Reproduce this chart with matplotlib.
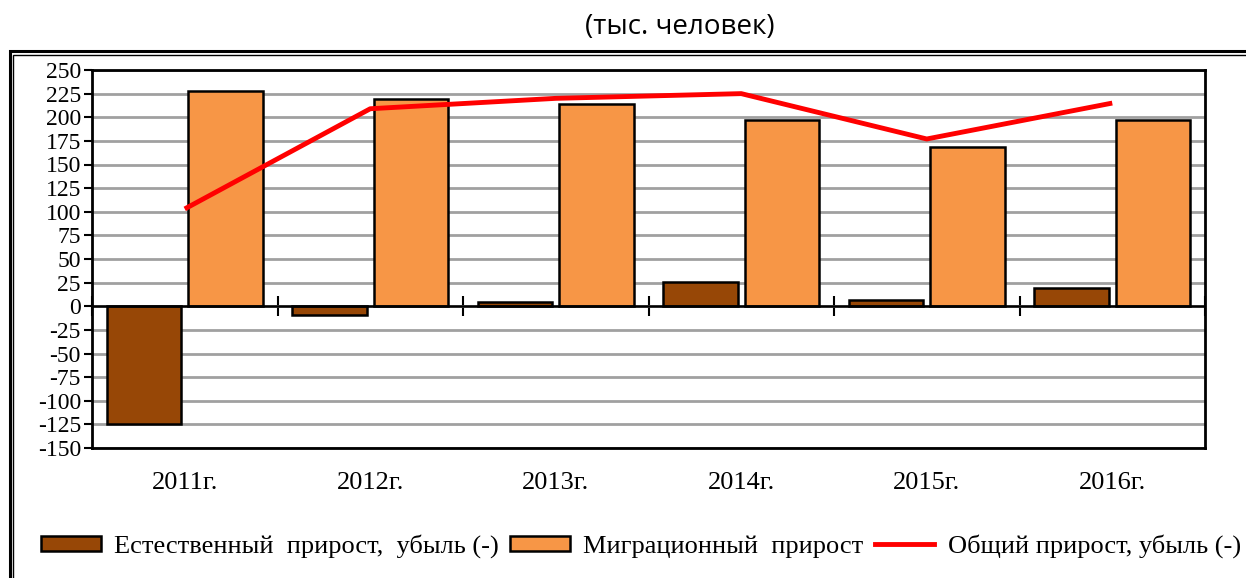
import matplotlib
matplotlib.use("Agg")
import matplotlib.pyplot as plt
from matplotlib.patches import Rectangle
from matplotlib.lines import Line2D
import numpy as np

years = ["2011г.", "2012г.", "2013г.", "2014г.", "2015г.", "2016г."]
natural = [-125, -9, 5, 26, 7, 19]
migration = [228, 219, 214, 197, 169, 197]
total = [103, 209, 220, 225, 177, 215]
yticks = list(range(-150, 251, 25))

serif = "Liberation Serif"
plt.rcParams["font.family"] = [serif, "DejaVu Serif"]
W, H = 1246, 578
fig = plt.figure(figsize=(W / 100, H / 100), dpi=100)

# outer double frame
for (x0, y0, lw) in [(10, 51, 2.2), (13.5, 54.5, 1.0)]:
    fig.patches.append(Rectangle((x0 / W, -0.2), 2.0, 1 - y0 / H + 0.2,
                                 transform=fig.transFigure, fill=False,
                                 edgecolor="black", linewidth=lw))

ax = fig.add_axes([92 / W, 1 - 448 / H, (1205 - 92) / W, (448 - 70) / H])
x = np.arange(len(years))
w = 0.4
ax.bar(x - 0.22, natural, w, color="#974706", edgecolor="black", linewidth=1.8, zorder=3)
ax.bar(x + 0.22, migration, w, color="#F79646", edgecolor="black", linewidth=1.8, zorder=3)
ax.plot(x, total, color="#FF0000", linewidth=3.5, zorder=4, solid_capstyle="butt")

ax.set_xlim(-0.5, len(years) - 0.5)
ax.set_ylim(-150, 250)
ax.set_yticks(yticks)
ax.set_yticklabels([str(v) for v in yticks], fontsize=17)
ax.yaxis.grid(True, color="#A0A0A0", linewidth=2, zorder=0)
ax.set_axisbelow(True)
ax.tick_params(axis="y", direction="out", length=6, width=1.5, pad=2)
ax.set_xticks(x)
ax.set_xticklabels(years, fontsize=19)
ax.tick_params(axis="x", length=0, pad=17)
for s in ax.spines.values():
    s.set_linewidth(2)
    s.set_color("black")

ax.axhline(0, color="black", linewidth=1.8, zorder=5)
sec = ax.secondary_xaxis(150 / 400)
sec.set_xticks(np.arange(len(years) + 1) - 0.5)
sec.set_xticklabels([])
sec.tick_params(direction="inout", length=14, width=1.5)
sec.spines["bottom"].set_visible(False)

fig.text(680 / W, 1 - 27 / H, "(тыс. человек)", ha="center", va="center",
         fontfamily="Open Sans", fontsize=20)

handles = [Rectangle((0, 0), 1, 1, facecolor="#974706", edgecolor="black", linewidth=1.8),
           Rectangle((0, 0), 1, 1, facecolor="#F79646", edgecolor="black", linewidth=1.8),
           Line2D([0], [0], color="#FF0000", linewidth=3.5)]
labels = ["Естественный  прирост,  убыль (-)", "Миграционный  прирост", "Общий прирост, убыль (-)"]
fig.legend(handles, labels, loc="center", bbox_to_anchor=(641 / W, 1 - 546 / H), ncol=3,
           frameon=False, prop={"family": serif, "size": 19}, handlelength=2.25,
           handleheight=0.5, handletextpad=0.5, columnspacing=0.45, borderpad=0, borderaxespad=0)

fig.savefig("out.png", dpi=100)
